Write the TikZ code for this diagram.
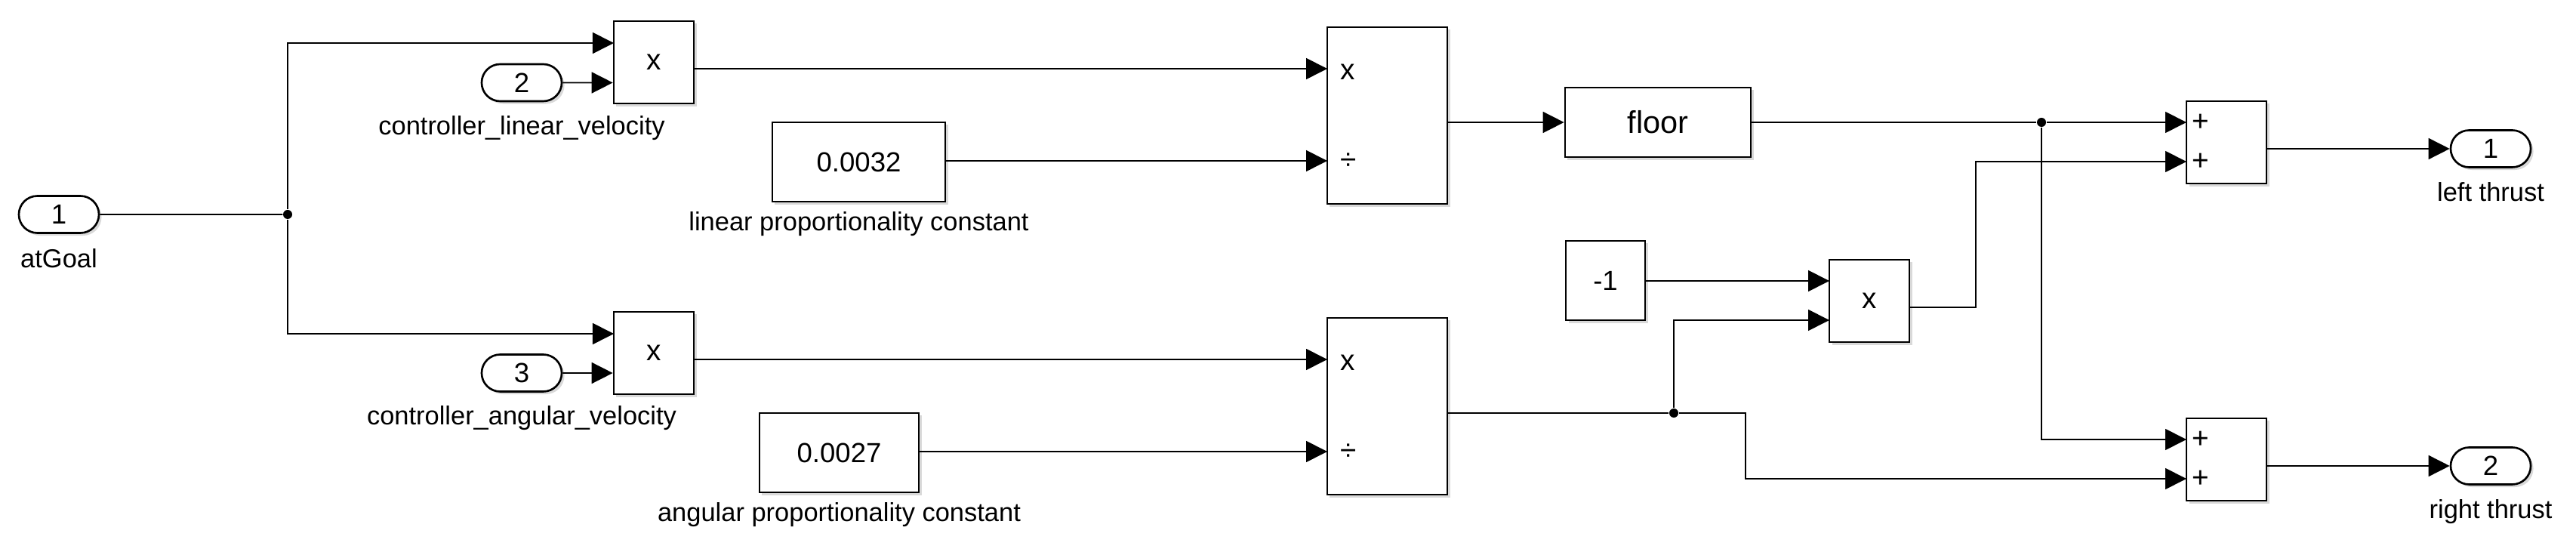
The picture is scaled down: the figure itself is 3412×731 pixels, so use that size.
\documentclass[tikz,border=0pt]{standalone}
\usepackage{fontspec}
\setmainfont{Liberation Sans}
\usetikzlibrary{shapes}
\usetikzlibrary{arrows.meta}
\usetikzlibrary{shadows}
\usetikzlibrary{calc}
\tikzstyle{bloc}=[
        rectangle,
        draw,
        line width=0.75pt,
        fill=white,
        inner sep=0pt,
        font=\fontsize{10.4pt}{12pt}\selectfont,
        drop shadow={shadow xshift=1pt,shadow yshift=-1pt,opacity=0.3}
]
\tikzstyle{port}=[
        rounded rectangle,
        draw,
        line width=0.75pt,
        fill=white,
        inner sep=0pt,
        minimum width=1.06cm,
        minimum height=0.49cm,
        font=\fontsize{10.4pt}{12pt}\selectfont,
        drop shadow={shadow xshift=1pt,shadow yshift=-1pt,opacity=0.3}
]
\tikzstyle{prod}=[bloc,minimum width=1.06cm,minimum height=1.09cm,font=\fontsize{11pt}{13pt}\selectfont]
\tikzstyle{etiquette}=[anchor=base,inner sep=0pt,font=\fontsize{9.8pt}{11pt}\selectfont]
\tikzstyle{signe}=[anchor=west,inner sep=0pt,font=\fontsize{11pt}{13pt}\selectfont]
\tikzstyle{jonction}=[circle,fill,inner sep=0pt,minimum size=0.12cm]
\tikzstyle{lien}=[line width=0.45pt]
\tikzstyle{suite}=[-{Triangle[length=2.8mm,width=2.8mm]},line width=0.45pt]

\begin{document}
\begin{tikzpicture}[x=0.01cm,y=-0.01cm]
\useasboundingbox (0,0) rectangle (3412,731);
%entrees
\node[port] (in1) at (78,284) {1};
\node[etiquette] (lab1) at (78,355) {atGoal};
\node[port] (in2) at (691,109.5) {2};
\node[etiquette] (lab2) at (691,179) {controller\_linear\_velocity};
\node[port] (in3) at (691,494) {3};
\node[etiquette] (lab3) at (691,563) {controller\_angular\_velocity};
%produits
\node[prod] (prodA) at (866,82.5) {x};
\node[prod] (prodB) at (866,467.5) {x};
%constantes
\node[bloc,minimum width=2.29cm,minimum height=1.05cm] (cstA) at (1137.5,214.5) {0.0032};
\node[etiquette] (lab4) at (1137.5,306) {linear proportionality constant};
\node[bloc,minimum width=2.11cm,minimum height=1.05cm] (cstB) at (1111.5,599.5) {0.0027};
\node[etiquette] (lab5) at (1111.5,691) {angular proportionality constant};
%divisions
\node[bloc,minimum width=1.59cm,minimum height=2.34cm] (divA) at (1837.5,153) {};
\node[signe] (mulA) at (1775,95) {x};
\node[signe] (quoA) at (1775,214) {÷};
\node[bloc,minimum width=1.59cm,minimum height=2.34cm] (divB) at (1837.5,538) {};
\node[signe] (mulB) at (1775,480) {x};
\node[signe] (quoB) at (1775,599) {÷};
%floor, -1, produit
\node[bloc,minimum width=2.46cm,minimum height=0.92cm,font=\fontsize{11.8pt}{13pt}\selectfont] (floor) at (2196,162) {floor};
\node[bloc,minimum width=1.05cm,minimum height=1.05cm] (neg) at (2126.5,371.5) {-1};
\node[prod] (prodC) at (2476,398.5) {x};
%sommes
\node[bloc,minimum width=1.06cm,minimum height=1.09cm] (sumA) at (2949,188.5) {};
\node[signe] (plA1) at (2903,162) {+};
\node[signe] (plA2) at (2903,214) {+};
\node[bloc,minimum width=1.06cm,minimum height=1.09cm] (sumB) at (2949,608.5) {};
\node[signe] (plB1) at (2903,582) {+};
\node[signe] (plB2) at (2903,634) {+};
%sorties
\node[port] (out1) at (3299,197) {1};
\node[etiquette] (lab6) at (3299,267) {left thrust};
\node[port] (out2) at (3299,617) {2};
\node[etiquette] (lab7) at (3299,687) {right thrust};
%jonctions
\node[jonction] (j1) at (381,284) {};
\node[jonction] (j2) at (2704,162) {};
\node[jonction] (j3) at (2217,547) {};
%Placement des entrees des blocs
\coordinate (pA1) at (813,57);
\coordinate (pB1) at (813,442);
\coordinate (dA1) at (1758,91);
\coordinate (dA2) at (1758,213);
\coordinate (dB1) at (1758,476);
\coordinate (dB2) at (1758,598);
\coordinate (pC1) at (2423,372);
\coordinate (pC2) at (2423,424);
\coordinate (pCo) at (2529,407);
\coordinate (sA1) at (2896,162);
\coordinate (sA2) at (2896,214);
\coordinate (sB1) at (2896,582);
\coordinate (sB2) at (2896,634);
%Placement des fleches
\draw[lien] (in1) -- (j1);
\draw[suite] (j1) |- (pA1);
\draw[suite] (j1) |- (pB1);
\draw[suite] (in2) -- (in2 -| prodA.west);
\draw[suite] (in3) -- (in3 -| prodB.west);
\draw[suite] (prodA.east |- dA1) -- (dA1);
\draw[suite] (prodB.east |- dB1) -- (dB1);
\draw[suite] (cstA.east |- dA2) -- (dA2);
\draw[suite] (cstB.east |- dB2) -- (dB2);
\draw[suite] (divA.east |- floor) -- (floor);
\draw[suite] (floor) -- (j2) -- (sA1);
\draw[suite] (j2) |- (sB1);
\draw[lien] (divB.east |- j3) -- (j3);
\draw[suite] (j3) |- (pC2);
\draw[suite] (j3) -- ++(95,0) |- (sB2);
\draw[suite] (neg.east |- pC1) -- (pC1);
\draw[suite] (pCo) -- ++(88,0) |- (sA2);
\draw[suite] (sumA.east |- out1) -- (out1);
\draw[suite] (sumB.east |- out2) -- (out2);
\end{tikzpicture}
\end{document}
